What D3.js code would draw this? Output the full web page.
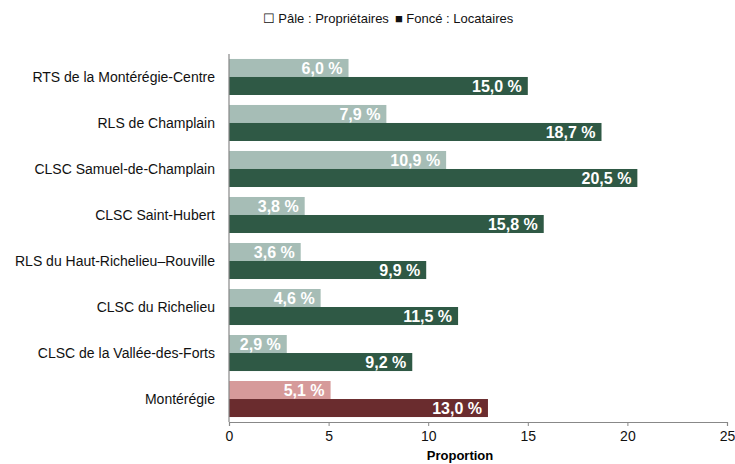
<!DOCTYPE html>
<html><head><meta charset="utf-8">
<script src="https://cdn.jsdelivr.net/npm/d3@7"></script>
<style>body{margin:0;background:#fff;} text{font-family:"Liberation Sans",Arial,sans-serif;}</style>
</head><body>
<svg id="c" width="735" height="464"></svg>
<script>
const categories = ["RTS de la Montérégie-Centre","RLS de Champlain","CLSC Samuel-de-Champlain","CLSC Saint-Hubert","RLS du Haut-Richelieu\u2013Rouville","CLSC du Richelieu","CLSC de la Vallée-des-Forts","Montérégie"];
const proprietaires = [6.0,7.9,10.9,3.8,3.6,4.6,2.9,5.1];
const locataires = [15.0,18.7,20.5,15.8,9.9,11.5,9.2,13.0];
const xTicks = [0,5,10,15,20,25];
const legendText = ["\u2610 Pâle : Propriétaires","\u25A0 Foncé : Locataires"];

const svg = d3.select("#c");
const m = {l:229, r:727, t:54, b:422};
const x = d3.scaleLinear().domain([0,25]).range([m.l,m.r]);
const y = d3.scaleBand().domain(categories).range([m.t,m.b]).paddingInner(0.217).paddingOuter(0.108);
const fmt = v => v.toFixed(1).replace(".",",")+" %";
const isRegion = c => c==="Montérégie";

const g = svg.append("g");
categories.forEach((c,i)=>{
  const bh = y.bandwidth()/2;
  const y0 = y(c);
  const lightCol = isRegion(c) ? "#d69a9a" : "#a6bdb6";
  const darkCol = isRegion(c) ? "#6a2c2e" : "#2f5945";
  [[proprietaires[i], lightCol, y0],[locataires[i], darkCol, y0+bh]].forEach(([v,col,yy])=>{
    g.append("rect").attr("x",x(0)).attr("y",yy).attr("width",x(v)-x(0)).attr("height",bh).attr("fill",col);
    g.append("text").attr("x",x(v)-6).attr("y",yy+bh/2).attr("dy","0.37em")
      .attr("text-anchor","end").attr("fill","#fff").attr("font-weight","bold").attr("font-size",16)
      .text(fmt(v));
  });
  svg.append("text").attr("x",215).attr("y",y0+y.bandwidth()/2).attr("dy","0.35em")
    .attr("text-anchor","end").attr("font-size",14).attr("fill","#111").text(c);
});

// y axis line
svg.append("line").attr("x1",m.l).attr("x2",m.l).attr("y1",m.t).attr("y2",m.b).attr("stroke","#888").attr("stroke-width",1.2);
// x axis
const xa = svg.append("g").attr("transform",`translate(0,${m.b})`)
  .call(d3.axisBottom(x).tickValues(xTicks).tickSize(4).tickPadding(5).tickFormat(d3.format("d")));
xa.select(".domain").attr("stroke","#888").attr("stroke-width",1.2);
xa.selectAll(".tick line").attr("stroke","#888");
xa.selectAll("text").attr("font-size",14).attr("fill","#111").style("font-family","Liberation Sans, Arial, sans-serif");
svg.append("text").attr("x",460).attr("y",460).attr("text-anchor","middle")
  .attr("font-size",13).attr("font-weight","bold").attr("fill","#000").text("Proportion");

// legend
const lg = svg.append("text").attr("x",388).attr("y",23).attr("text-anchor","middle").attr("font-size",13).attr("fill","#111");
lg.append("tspan").text(legendText[0]);
lg.append("tspan").attr("dx",6).text(legendText[1]);
</script>
</body></html>
